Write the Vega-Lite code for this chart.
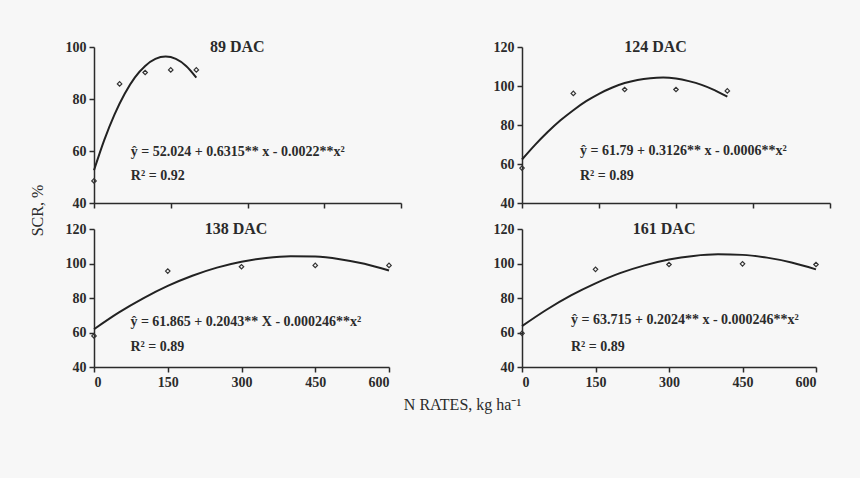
{
  "$schema": "https://vega.github.io/schema/vega-lite/v6.json",
  "background": "#f7f7f7",
  "padding": {"left": 29, "top": 39, "right": 29, "bottom": 67},
  "config": {
    "view": {"stroke": null},
    "font": "Liberation Serif",
    "axis": {
      "grid": false,
      "labelFont": "Liberation Serif",
      "labelFontWeight": "bold",
      "labelFontSize": 14,
      "labelColor": "#2b2b2b",
      "labelOverlap": false,
      "domainColor": "#2b2b2b",
      "tickColor": "#2b2b2b",
      "domainWidth": 1.5,
      "tickWidth": 1.5,
      "tickSize": 5,
      "labelPadding": 3,
      "titleFont": "Liberation Serif",
      "titleFontWeight": "normal",
      "titleFontSize": 16,
      "titleColor": "#2b2b2b"
    }
  },
  "datasets": {
    "obs": [
      {"panel": "89 DAC", "rate": 0, "scr": 48.5},
      {"panel": "89 DAC", "rate": 50, "scr": 85.8},
      {"panel": "89 DAC", "rate": 100, "scr": 90.2},
      {"panel": "89 DAC", "rate": 150, "scr": 91.2},
      {"panel": "89 DAC", "rate": 200, "scr": 91.2},
      {"panel": "124 DAC", "rate": 0, "scr": 57.9},
      {"panel": "124 DAC", "rate": 100, "scr": 96.2},
      {"panel": "124 DAC", "rate": 200, "scr": 98.2},
      {"panel": "124 DAC", "rate": 300, "scr": 98.2},
      {"panel": "124 DAC", "rate": 400, "scr": 97.5},
      {"panel": "138 DAC", "rate": 0, "scr": 58.0},
      {"panel": "138 DAC", "rate": 150, "scr": 95.6},
      {"panel": "138 DAC", "rate": 300, "scr": 98.1},
      {"panel": "138 DAC", "rate": 450, "scr": 98.9},
      {"panel": "138 DAC", "rate": 600, "scr": 98.9},
      {"panel": "161 DAC", "rate": 0, "scr": 59.5},
      {"panel": "161 DAC", "rate": 150, "scr": 96.6},
      {"panel": "161 DAC", "rate": 300, "scr": 99.4},
      {"panel": "161 DAC", "rate": 450, "scr": 99.8},
      {"panel": "161 DAC", "rate": 600, "scr": 99.4}
    ],
    "fit": [
      {"panel": "89 DAC", "rate": 0, "scr": 52.6},
      {"panel": "89 DAC", "rate": 20, "scr": 64.2},
      {"panel": "89 DAC", "rate": 40, "scr": 74.0},
      {"panel": "89 DAC", "rate": 60, "scr": 82.0},
      {"panel": "89 DAC", "rate": 80, "scr": 88.3},
      {"panel": "89 DAC", "rate": 100, "scr": 92.7},
      {"panel": "89 DAC", "rate": 120, "scr": 95.4},
      {"panel": "89 DAC", "rate": 140, "scr": 96.3},
      {"panel": "89 DAC", "rate": 160, "scr": 95.4},
      {"panel": "89 DAC", "rate": 180, "scr": 92.7},
      {"panel": "89 DAC", "rate": 200, "scr": 88.2},
      {"panel": "124 DAC", "rate": 0, "scr": 62.3},
      {"panel": "124 DAC", "rate": 25, "scr": 69.7},
      {"panel": "124 DAC", "rate": 50, "scr": 76.4},
      {"panel": "124 DAC", "rate": 75, "scr": 82.4},
      {"panel": "124 DAC", "rate": 100, "scr": 87.6},
      {"panel": "124 DAC", "rate": 125, "scr": 92.2},
      {"panel": "124 DAC", "rate": 150, "scr": 96.0},
      {"panel": "124 DAC", "rate": 175, "scr": 99.1},
      {"panel": "124 DAC", "rate": 200, "scr": 101.5},
      {"panel": "124 DAC", "rate": 225, "scr": 103.1},
      {"panel": "124 DAC", "rate": 250, "scr": 104.0},
      {"panel": "124 DAC", "rate": 275, "scr": 104.3},
      {"panel": "124 DAC", "rate": 300, "scr": 103.8},
      {"panel": "124 DAC", "rate": 325, "scr": 102.5},
      {"panel": "124 DAC", "rate": 350, "scr": 100.6},
      {"panel": "124 DAC", "rate": 375, "scr": 97.9},
      {"panel": "124 DAC", "rate": 400, "scr": 94.5},
      {"panel": "138 DAC", "rate": 0, "scr": 61.9},
      {"panel": "138 DAC", "rate": 50, "scr": 71.5},
      {"panel": "138 DAC", "rate": 100, "scr": 79.8},
      {"panel": "138 DAC", "rate": 150, "scr": 87.0},
      {"panel": "138 DAC", "rate": 200, "scr": 92.9},
      {"panel": "138 DAC", "rate": 250, "scr": 97.6},
      {"panel": "138 DAC", "rate": 300, "scr": 101.0},
      {"panel": "138 DAC", "rate": 350, "scr": 103.2},
      {"panel": "138 DAC", "rate": 400, "scr": 104.2},
      {"panel": "138 DAC", "rate": 450, "scr": 104.0},
      {"panel": "138 DAC", "rate": 500, "scr": 102.5},
      {"panel": "138 DAC", "rate": 550, "scr": 99.8},
      {"panel": "138 DAC", "rate": 600, "scr": 95.9},
      {"panel": "161 DAC", "rate": 0, "scr": 63.7},
      {"panel": "161 DAC", "rate": 50, "scr": 73.2},
      {"panel": "161 DAC", "rate": 100, "scr": 81.5},
      {"panel": "161 DAC", "rate": 150, "scr": 88.5},
      {"panel": "161 DAC", "rate": 200, "scr": 94.4},
      {"panel": "161 DAC", "rate": 250, "scr": 98.9},
      {"panel": "161 DAC", "rate": 300, "scr": 102.3},
      {"panel": "161 DAC", "rate": 350, "scr": 104.4},
      {"panel": "161 DAC", "rate": 400, "scr": 105.3},
      {"panel": "161 DAC", "rate": 450, "scr": 105.0},
      {"panel": "161 DAC", "rate": 500, "scr": 103.4},
      {"panel": "161 DAC", "rate": 550, "scr": 100.6},
      {"panel": "161 DAC", "rate": 600, "scr": 96.6}
    ],
    "notes": [
      {"panel": "89 DAC", "eq": "ŷ = 52.024 + 0.6315** x - 0.0022**x²", "r2": "R² = 0.92"},
      {"panel": "124 DAC", "eq": "ŷ = 61.79 + 0.3126** x - 0.0006**x²", "r2": "R² = 0.89"},
      {"panel": "138 DAC", "eq": "ŷ = 61.865 + 0.2043** X - 0.000246**x²", "r2": "R² = 0.89"},
      {"panel": "161 DAC", "eq": "ŷ = 63.715 + 0.2024** x - 0.000246**x²", "r2": "R² = 0.89"}
    ]
  },
  "columns": 2,
  "align": "all",
  "bounds": "flush",
  "spacing": {"row": 26, "column": 120},
  "concat": [
    {
      "width": 307,
      "height": 156,
      "layer": [
        {
          "data": {"name": "fit"},
          "transform": [{"filter": "datum.panel === '89 DAC'"}],
          "mark": {"type": "line", "color": "#222", "strokeWidth": 2, "interpolate": "monotone"},
          "encoding": {
            "x": {"field": "rate", "type": "quantitative", "scale": {"domain": [0, 600], "nice": false},
                  "axis": {"values": [0, 150, 300, 450, 600], "labels": false, "title": null}},
            "y": {"field": "scr", "type": "quantitative", "scale": {"domain": [40, 100], "nice": false},
                  "axis": {"values": [40, 60, 80, 100], "labelOverlap": false, "tickCount": 4, "title": "SCR, %", "titleX": -57, "titleY": 163, "titleBaseline": "middle"}}
          }
        },
        {
          "data": {"name": "obs"},
          "transform": [{"filter": "datum.panel === '89 DAC'"}],
          "mark": {"type": "point", "shape": "diamond", "size": 20, "filled": false, "stroke": "#333", "strokeWidth": 1.2, "opacity": 1},
          "encoding": {
            "x": {"field": "rate", "type": "quantitative"},
            "y": {"field": "scr", "type": "quantitative"}
          }
        },
        {
          "data": {"name": "notes"},
          "transform": [{"filter": "datum.panel === '89 DAC'"}],
          "mark": {"type": "text", "fontWeight": "bold", "fontSize": 16, "color": "#2b2b2b", "baseline": "middle"},
          "encoding": {
            "x": {"datum": 280, "type": "quantitative"},
            "y": {"datum": 100, "type": "quantitative"},
            "text": {"field": "panel"}
          }
        },
        {
          "data": {"name": "notes"},
          "transform": [{"filter": "datum.panel === '89 DAC'"}],
          "mark": {"type": "text", "fontWeight": "bold", "fontSize": 14, "color": "#2b2b2b", "baseline": "middle", "align": "left"},
          "encoding": {
            "x": {"datum": 72, "type": "quantitative"},
            "y": {"datum": 59.7, "type": "quantitative"},
            "text": {"field": "eq"}
          }
        },
        {
          "data": {"name": "notes"},
          "transform": [{"filter": "datum.panel === '89 DAC'"}],
          "mark": {"type": "text", "fontWeight": "bold", "fontSize": 14, "color": "#2b2b2b", "baseline": "middle", "align": "left"},
          "encoding": {
            "x": {"datum": 72, "type": "quantitative"},
            "y": {"datum": 50.4, "type": "quantitative"},
            "text": {"field": "r2"}
          }
        }
      ]
    },
    {
      "width": 308,
      "height": 156,
      "layer": [
        {
          "data": {"name": "fit"},
          "transform": [{"filter": "datum.panel === '124 DAC'"}],
          "mark": {"type": "line", "color": "#222", "strokeWidth": 2, "interpolate": "monotone"},
          "encoding": {
            "x": {"field": "rate", "type": "quantitative", "scale": {"domain": [0, 600], "nice": false},
                  "axis": {"values": [0, 150, 300, 450, 600], "labels": false, "title": null}},
            "y": {"field": "scr", "type": "quantitative", "scale": {"domain": [40, 120], "nice": false},
                  "axis": {"values": [40, 60, 80, 100, 120], "labelOverlap": false, "tickCount": 5, "title": null}}
          }
        },
        {
          "data": {"name": "obs"},
          "transform": [{"filter": "datum.panel === '124 DAC'"}],
          "mark": {"type": "point", "shape": "diamond", "size": 20, "filled": false, "stroke": "#333", "strokeWidth": 1.2, "opacity": 1},
          "encoding": {
            "x": {"field": "rate", "type": "quantitative"},
            "y": {"field": "scr", "type": "quantitative"}
          }
        },
        {
          "data": {"name": "notes"},
          "transform": [{"filter": "datum.panel === '124 DAC'"}],
          "mark": {"type": "text", "fontWeight": "bold", "fontSize": 16, "color": "#2b2b2b", "baseline": "middle"},
          "encoding": {
            "x": {"datum": 260, "type": "quantitative"},
            "y": {"datum": 120, "type": "quantitative"},
            "text": {"field": "panel"}
          }
        },
        {
          "data": {"name": "notes"},
          "transform": [{"filter": "datum.panel === '124 DAC'"}],
          "mark": {"type": "text", "fontWeight": "bold", "fontSize": 14, "color": "#2b2b2b", "baseline": "middle", "align": "left"},
          "encoding": {
            "x": {"datum": 113, "type": "quantitative"},
            "y": {"datum": 66.7, "type": "quantitative"},
            "text": {"field": "eq"}
          }
        },
        {
          "data": {"name": "notes"},
          "transform": [{"filter": "datum.panel === '124 DAC'"}],
          "mark": {"type": "text", "fontWeight": "bold", "fontSize": 14, "color": "#2b2b2b", "baseline": "middle", "align": "left"},
          "encoding": {
            "x": {"datum": 113, "type": "quantitative"},
            "y": {"datum": 54.1, "type": "quantitative"},
            "text": {"field": "r2"}
          }
        }
      ]
    },
    {
      "width": 295,
      "height": 138,
      "layer": [
        {
          "data": {"name": "fit"},
          "transform": [{"filter": "datum.panel === '138 DAC'"}],
          "mark": {"type": "line", "color": "#222", "strokeWidth": 2, "interpolate": "monotone"},
          "encoding": {
            "x": {"field": "rate", "type": "quantitative", "scale": {"domain": [0, 600], "nice": false},
                  "axis": {"values": [0, 150, 300, 450, 600], "labelOverlap": false, "title": "N RATES, kg ha⁻¹", "titleX": 368, "titleY": 37, "titleBaseline": "middle"}},
            "y": {"field": "scr", "type": "quantitative", "scale": {"domain": [40, 120], "nice": false},
                  "axis": {"values": [40, 60, 80, 100, 120], "labelOverlap": false, "tickCount": 5, "title": null}}
          }
        },
        {
          "data": {"name": "obs"},
          "transform": [{"filter": "datum.panel === '138 DAC'"}],
          "mark": {"type": "point", "shape": "diamond", "size": 20, "filled": false, "stroke": "#333", "strokeWidth": 1.2, "opacity": 1},
          "encoding": {
            "x": {"field": "rate", "type": "quantitative"},
            "y": {"field": "scr", "type": "quantitative"}
          }
        },
        {
          "data": {"name": "notes"},
          "transform": [{"filter": "datum.panel === '138 DAC'"}],
          "mark": {"type": "text", "fontWeight": "bold", "fontSize": 16, "color": "#2b2b2b", "baseline": "middle"},
          "encoding": {
            "x": {"datum": 289, "type": "quantitative"},
            "y": {"datum": 120, "type": "quantitative"},
            "text": {"field": "panel"}
          }
        },
        {
          "data": {"name": "notes"},
          "transform": [{"filter": "datum.panel === '138 DAC'"}],
          "mark": {"type": "text", "fontWeight": "bold", "fontSize": 14, "color": "#2b2b2b", "baseline": "middle", "align": "left"},
          "encoding": {
            "x": {"datum": 74, "type": "quantitative"},
            "y": {"datum": 66, "type": "quantitative"},
            "text": {"field": "eq"}
          }
        },
        {
          "data": {"name": "notes"},
          "transform": [{"filter": "datum.panel === '138 DAC'"}],
          "mark": {"type": "text", "fontWeight": "bold", "fontSize": 14, "color": "#2b2b2b", "baseline": "middle", "align": "left"},
          "encoding": {
            "x": {"datum": 74, "type": "quantitative"},
            "y": {"datum": 51.7, "type": "quantitative"},
            "text": {"field": "r2"}
          }
        }
      ]
    },
    {
      "width": 294,
      "height": 138,
      "layer": [
        {
          "data": {"name": "fit"},
          "transform": [{"filter": "datum.panel === '161 DAC'"}],
          "mark": {"type": "line", "color": "#222", "strokeWidth": 2, "interpolate": "monotone"},
          "encoding": {
            "x": {"field": "rate", "type": "quantitative", "scale": {"domain": [0, 600], "nice": false},
                  "axis": {"values": [0, 150, 300, 450, 600], "labelOverlap": false, "title": null}},
            "y": {"field": "scr", "type": "quantitative", "scale": {"domain": [40, 120], "nice": false},
                  "axis": {"values": [40, 60, 80, 100, 120], "labelOverlap": false, "tickCount": 5, "title": null}}
          }
        },
        {
          "data": {"name": "obs"},
          "transform": [{"filter": "datum.panel === '161 DAC'"}],
          "mark": {"type": "point", "shape": "diamond", "size": 20, "filled": false, "stroke": "#333", "strokeWidth": 1.2, "opacity": 1},
          "encoding": {
            "x": {"field": "rate", "type": "quantitative"},
            "y": {"field": "scr", "type": "quantitative"}
          }
        },
        {
          "data": {"name": "notes"},
          "transform": [{"filter": "datum.panel === '161 DAC'"}],
          "mark": {"type": "text", "fontWeight": "bold", "fontSize": 16, "color": "#2b2b2b", "baseline": "middle"},
          "encoding": {
            "x": {"datum": 290, "type": "quantitative"},
            "y": {"datum": 120, "type": "quantitative"},
            "text": {"field": "panel"}
          }
        },
        {
          "data": {"name": "notes"},
          "transform": [{"filter": "datum.panel === '161 DAC'"}],
          "mark": {"type": "text", "fontWeight": "bold", "fontSize": 14, "color": "#2b2b2b", "baseline": "middle", "align": "left"},
          "encoding": {
            "x": {"datum": 100, "type": "quantitative"},
            "y": {"datum": 67, "type": "quantitative"},
            "text": {"field": "eq"}
          }
        },
        {
          "data": {"name": "notes"},
          "transform": [{"filter": "datum.panel === '161 DAC'"}],
          "mark": {"type": "text", "fontWeight": "bold", "fontSize": 14, "color": "#2b2b2b", "baseline": "middle", "align": "left"},
          "encoding": {
            "x": {"datum": 100, "type": "quantitative"},
            "y": {"datum": 51.5, "type": "quantitative"},
            "text": {"field": "r2"}
          }
        }
      ]
    }
  ]
}
